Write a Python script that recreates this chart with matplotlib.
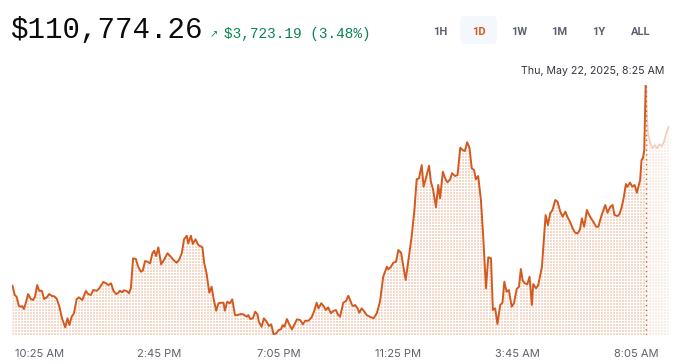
import matplotlib
matplotlib.use("Agg")
import matplotlib.pyplot as plt
import numpy as np
from matplotlib.patches import FancyBboxPatch

# minutes after 10:25 AM (May 21) and BTC price in USD
times = [
    -60, -55, -51, -46, -41, -39, -35, -31, -26, -20,
    -15, -11, -6, -2, 4, 9, 15, 20, 26, 31,
    36, 42, 48, 55, 60, 64, 69, 74, 80, 85,
    92, 100, 105, 111, 116, 124, 129, 138, 144, 149,
    155, 160, 166, 171, 174, 179, 183, 189, 194, 198,
    203, 209, 214, 220, 224, 229, 234, 240, 245, 249,
    253, 258, 264, 270, 278, 285, 291, 298, 303, 309,
    314, 320, 323, 329, 333, 339, 345, 354, 358, 363,
    369, 374, 379, 384, 389, 396, 400, 403, 408, 414,
    419, 425, 430, 438, 443, 451, 454, 458, 464, 469,
    474, 477, 483, 488, 494, 499, 504, 509, 515, 520,
    525, 529, 533, 538, 543, 549, 554, 560, 567, 573,
    578, 585, 592, 597, 603, 607, 613, 618, 623, 628,
    634, 639, 645, 649, 654, 661, 667, 672, 676, 680,
    683, 687, 692, 696, 701, 706, 712, 719, 727, 734,
    741, 748, 756, 759, 765, 770, 776, 781, 787, 792,
    797, 803, 810, 816, 821, 826, 832, 836, 841, 848,
    852, 857, 863, 868, 872, 878, 883, 888, 894, 898,
    905, 910, 916, 921, 926, 931, 936, 941, 946, 950,
    955, 961, 966, 972, 977, 983, 987, 992, 997, 1003,
    1008, 1012, 1017, 1022, 1028, 1033, 1039, 1044, 1048, 1052,
    1057, 1062, 1067, 1072, 1075, 1081, 1086, 1094, 1097, 1102,
    1107, 1112, 1117, 1123, 1128, 1134, 1139, 1145, 1150, 1155,
    1161, 1166, 1172, 1177, 1181, 1186, 1192, 1195, 1201, 1206,
    1212, 1217, 1223, 1228, 1232, 1237, 1243, 1248, 1252, 1259,
    1263, 1268, 1272, 1277, 1280, 1286, 1291, 1296, 1301, 1306,
    1308, 1311, 1314, 1317, 1320,
]
prices = [
    107052, 106878, 106847, 106673, 106660, 106673, 106617, 106729, 106897, 106804,
    106785, 106847, 107065, 106958, 106958, 106804, 106835, 106897, 106860, 106854,
    106817, 106673, 106444, 106276, 106444, 106319, 106474, 106537, 106804, 106835,
    106785, 106953, 106897, 106878, 106971, 106958, 107003, 107121, 107096, 107065,
    107096, 106958, 106897, 106921, 106958, 106929, 106966, 106953, 106910, 107003,
    107562, 107549, 107406, 107313, 107331, 107512, 107499, 107469, 107656, 107704,
    107605, 107767, 107450, 107531, 107656, 107592, 107531, 107480, 107531, 107656,
    107917, 107984, 107842, 107984, 107829, 107917, 107810, 107767, 107469, 107283,
    106921, 107033, 106785, 106586, 106724, 106735, 106735, 106586, 106753, 106724,
    106798, 106505, 106505, 106524, 106518, 106474, 106505, 106431, 106444, 106567,
    106518, 106381, 106287, 106444, 106381, 106300, 106332, 106146, 106164, 106226,
    106239, 106319, 106287, 106431, 106338, 106239, 106319, 106425, 106412, 106332,
    106399, 106399, 106463, 106567, 106735, 106630, 106724, 106673, 106599, 106649,
    106537, 106580, 106599, 106518, 106474, 106735, 106766, 106865, 106785, 106692,
    106673, 106692, 106630, 106548, 106630, 106580, 106505, 106474, 106444, 106537,
    106753, 107219, 107406, 107357, 107406, 107480, 107499, 107717, 107667, 107406,
    107158, 107531, 107965, 108463, 109035, 109054, 109301, 108897, 109054, 109288,
    108990, 108835, 108513, 108929, 108681, 109177, 109054, 108979, 109035, 109147,
    109096, 109115, 109624, 109581, 109562, 109725, 109624, 109240, 109208, 109035,
    109096, 108649, 107965, 107003, 107581, 107562, 106599, 106630, 106338, 106692,
    106735, 107126, 106940, 106971, 106660, 106724, 106990, 107033, 107363, 107145,
    107096, 107078, 107219, 106692, 107083, 107003, 107065, 107406, 107779, 108369,
    108183, 108401, 108463, 108649, 108617, 108431, 108338, 108431, 108327, 108245,
    108122, 108040, 108028, 108103, 108308, 108151, 108463, 108401, 108308, 108245,
    108151, 108151, 108338, 108463, 108556, 108412, 108524, 108556, 108369, 108351,
    108388, 108524, 108681, 108947, 108897, 108972, 108897, 108929, 108785, 108960,
    109022, 109395, 109426, 109581, 110774,
]
# the part after the hovered point is drawn faded
after_times = [1320, 1325, 1330, 1335, 1340, 1345, 1350, 1355, 1360, 1365, 1370]
after_prices = [110774, 109892, 109706, 109613, 109674, 109613, 109687, 109656,
                109736, 109892, 110015]

tick_times = [0, 260, 520, 780, 1040, 1300]
tick_labels = ["10:25 AM", "2:45 PM", "7:05 PM", "11:25 PM", "3:45 AM", "8:05 AM"]
ranges = ["1H", "1D", "1W", "1M", "1Y", "ALL"]
range_x = [440, 479, 519, 559, 599, 641]
active_range = "1D"
price_text = "$110,774.26"
change_text = "$3,723.19 (3.48%)"
hover_text = "Thu, May 22, 2025, 8:25 AM"
hover_time = 1320

LINE = "#d2591f"
FADED = "#f2cdbd"
DOT = "#f6d8c8"
GREY = "#5b616e"
GREEN = "#098551"

W, H = 680, 364
fig = plt.figure(figsize=(W / 100, H / 100), dpi=100)
fig.patch.set_facecolor("white")
ax = fig.add_axes([12 / W, 29 / H, 657.5 / W, 255 / H])
x0, x1 = -61, 1372
y0, y1 = 106133, 110886
ax.set_xlim(x0, x1)
ax.set_ylim(y0, y1)
for s in ax.spines.values():
    s.set_visible(False)
ax.set_yticks([])
ax.set_xticks(tick_times)
ax.set_xticklabels(tick_labels, fontsize=8, color=GREY, family="Inter")
ax.tick_params(axis="x", length=0, pad=10)


def dotted_fill(t, p, alpha):
    # dot texture under the line, clipped to the area below it
    poly = ax.fill_between(t, p, y0, facecolor="none", edgecolor="none")
    gx = np.arange(x0 + 3, x1, 6.54)
    gy = np.arange(y0 + 20, y1, 55.9)
    X, Y = np.meshgrid(gx, gy)
    d = ax.scatter(X.ravel(), Y.ravel(), s=0.55, marker="s", c=DOT,
                   linewidths=0, alpha=alpha)
    d.set_clip_path(poly.get_paths()[0], ax.transData)


dotted_fill(times, prices, 1.0)
dotted_fill(after_times, after_prices, 0.45)

ax.plot(after_times, after_prices, color=FADED, lw=1.2)
ax.plot(times, prices, color=LINE, lw=1.4, solid_joinstyle="round")
ax.vlines(hover_time, y0, prices[-1], colors=LINE, lw=1, linestyles=(0, (1, 2.5)))

# header
fig.text(10 / W, 1 - 38 / H, price_text, fontsize=21, family="Liberation Mono",
         color="#0a0b0d", va="baseline")
fig.text(210 / W, 1 - 37 / H, "\u2197", fontsize=7, family="DejaVu Sans",
         color=GREEN, va="baseline")
fig.text(224 / W, 1 - 38 / H, change_text, fontsize=10.4, family="Liberation Mono",
         color=GREEN, va="baseline")

box = FancyBboxPatch((460, H - 44), 37, 28, boxstyle="round,pad=0,rounding_size=5",
                     transform=None, facecolor="#f4f7fc", edgecolor="none")
fig.patches.append(box)
for r, rx in zip(ranges, range_x):
    fig.text(rx / W, 1 - 32 / H, r, fontsize=8, family="Roboto", weight="bold",
             color=LINE if r == active_range else GREY, ha="center", va="center")

fig.text(664 / W, 1 - 71 / H, hover_text, fontsize=7.6, family="Inter",
         color="#32353d", ha="right", va="center")

fig.savefig("out.png", dpi=100)
